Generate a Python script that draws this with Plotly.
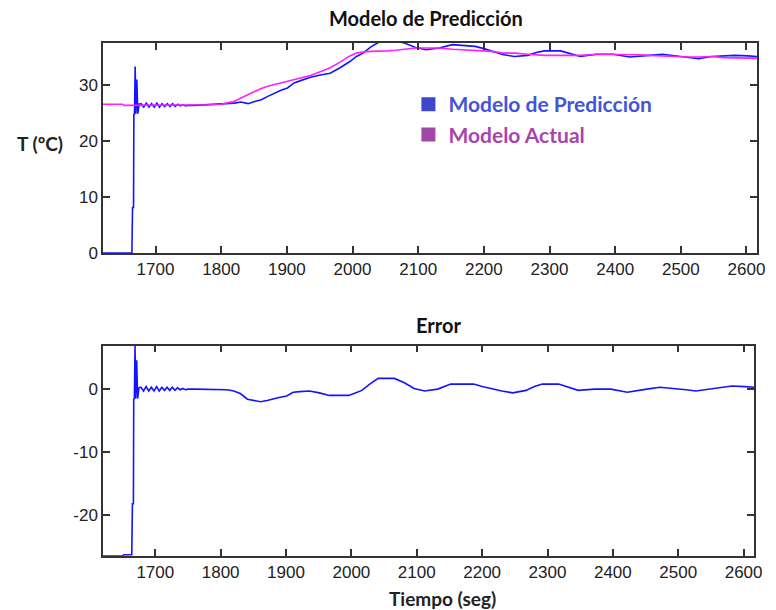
import plotly.graph_objects as go

# Sample times (s) shared by both temperature series
time_s = [
    1620, 1650, 1652, 1664, 1665, 1666.5, 1667, 1668, 1669, 1670, 1671.5, 1673, 1675,
    1678, 1682, 1686, 1690, 1694, 1698, 1702, 1706, 1710, 1714, 1718, 1722, 1726, 1730,
    1734, 1738, 1742, 1746, 1750, 1760, 1780, 1800, 1810, 1820, 1830, 1841, 1851, 1861,
    1871, 1881, 1891, 1901, 1911, 1921, 1936, 1951, 1966, 1981, 1996, 2006, 2016, 2028,
    2041, 2053, 2066, 2081, 2096, 2112, 2132, 2152, 2170, 2187, 2200, 2212, 2230, 2247,
    2267, 2280, 2292, 2317, 2332, 2347, 2372, 2397, 2422, 2437, 2452, 2472, 2497, 2512,
    2527, 2547, 2565, 2582, 2602, 2616,
]

# Measured temperature (ºC) - "Modelo Actual"
temp_actual = [
    26.5, 26.5, 26.3, 26.3, 26.3, 26.3, 26.3, 26.3, 26.3, 26.3, 26.3, 26.3, 26.3,
    26.3, 26.3, 26.3, 26.3, 26.3, 26.3, 26.3, 26.3, 26.3, 26.3, 26.3, 26.3, 26.3, 26.3,
    26.3, 26.3, 26.3, 26.3, 26.3, 26.3, 26.4, 26.5, 26.7, 27.0, 27.6, 28.2, 28.8, 29.3,
    29.7, 30.0, 30.3, 30.5, 30.8, 31.1, 31.6, 32.3, 33.0, 34.0, 35.1, 35.6, 35.8, 35.9,
    35.9, 36.0, 36.1, 36.3, 36.5, 36.5, 36.5, 36.3, 36.2, 36.0, 36.0, 35.9, 35.6, 35.6,
    35.4, 35.3, 35.2, 35.2, 35.2, 35.2, 35.4, 35.4, 35.4, 35.3, 35.2, 35.1, 34.9, 34.9,
    34.9, 35.0, 34.8, 34.7, 34.7, 34.7,
]

# Predicted temperature (ºC) - "Modelo de Predicción"
temp_pred = [
    0.0, 0.0, 0.0, 0.0, 8.1, 8.1, 24.7, 24.8, 33.2, 24.8, 30.9, 24.8, 26.5,
    26.6, 26.0, 26.7, 26.0, 26.6, 26.0, 26.7, 26.0, 26.6, 26.1, 26.6, 26.1, 26.6, 26.1,
    26.5, 26.2, 26.4, 26.2, 26.3, 26.3, 26.4, 26.5, 26.6, 26.7, 26.9, 26.6, 27.0, 27.3,
    27.9, 28.5, 29.0, 29.4, 30.3, 30.7, 31.3, 31.7, 32.0, 33.0, 34.1, 35.0, 35.6, 36.7,
    37.6, 37.7, 37.8, 37.3, 36.6, 36.2, 36.5, 37.1, 37.0, 36.8, 36.4, 36.0, 35.3, 35.0,
    35.2, 35.7, 36.0, 36.0, 35.5, 35.0, 35.4, 35.4, 34.9, 35.1, 35.2, 35.4, 35.0, 34.8,
    34.6, 35.0, 35.1, 35.2, 35.1, 35.0,
]

# Prediction error = predicted - measured
error = [round(p - a, 2) for p, a in zip(temp_pred, temp_actual)]

x_ticks = [1700, 1800, 1900, 2000, 2100, 2200, 2300, 2400, 2500, 2600]
y_ticks_temp = [0, 10, 20, 30]
y_ticks_err = [-20, -10, 0]
y_ticks_err_text = ["-20", "-10", "0"]

BLUE = "#1414ff"
MAGENTA = "#ff1eff"

fig = go.Figure()

fig.add_trace(go.Scatter(x=time_s, y=temp_pred, mode="lines",
                         line=dict(color=BLUE, width=1.6),
                         xaxis="x", yaxis="y", showlegend=False))
fig.add_trace(go.Scatter(x=time_s, y=temp_actual, mode="lines",
                         line=dict(color=MAGENTA, width=1.6),
                         xaxis="x", yaxis="y", showlegend=False))
fig.add_trace(go.Scatter(x=time_s, y=error, mode="lines",
                         line=dict(color=BLUE, width=1.6),
                         xaxis="x2", yaxis="y2", showlegend=False))

# Legend entries (square swatches)
fig.add_trace(go.Scatter(x=[None], y=[None], mode="markers",
                         marker=dict(symbol="square", size=14, color="#3e48cc"),
                         name="<span style='color:#4254dc'><b>Modelo de Predicción</b></span>",
                         xaxis="x", yaxis="y"))
fig.add_trace(go.Scatter(x=[None], y=[None], mode="markers",
                         marker=dict(symbol="square", size=14, color="#a048a6"),
                         name="<span style='color:#a845ac'><b>Modelo Actual</b></span>",
                         xaxis="x", yaxis="y"))

axis_common = dict(
    showgrid=False, zeroline=False, showline=True, linecolor="#333333", linewidth=1.5,
    mirror="ticks", ticks="inside", ticklen=7, tickwidth=1.5, tickcolor="#333333",
    tickfont=dict(family="Liberation Sans", size=17, color="#222222"),
)

title_font = dict(family="Lato", size=20, color="#111111")
label_font = dict(family="Lato", size=19, color="#222222")

fig.update_layout(
    width=776, height=610,
    margin=dict(l=103, r=11, t=43, b=54),
    paper_bgcolor="white", plot_bgcolor="white",
    xaxis=dict(domain=[0, 1], anchor="y", range=[1620, 2616], tickvals=x_ticks, **axis_common),
    yaxis=dict(domain=[0.5906, 1], anchor="x", range=[0, 37.4], tickvals=y_ticks_temp, **axis_common),
    xaxis2=dict(domain=[0, 0.9955], anchor="y2", range=[1620, 2616], tickvals=x_ticks, **axis_common),
    yaxis2=dict(domain=[0, 0.41], anchor="x2", range=[-26.5, 6.9], tickvals=y_ticks_err,
                ticktext=y_ticks_err_text, **axis_common),
    legend=dict(x=0.467, y=0.92, xanchor="left", yanchor="top", bgcolor="rgba(0,0,0,0)",
                font=dict(family="Lato", size=21), itemsizing="trace"),
    annotations=[
        dict(text="<b>Modelo de Predicción</b>", x=0.494, y=1.0487, xref="paper", yref="paper",
             xanchor="center", yanchor="middle", showarrow=False, font=title_font),
        dict(text="<b>Error</b>", x=0.5136, y=0.450, xref="paper", yref="paper",
             xanchor="center", yanchor="middle", showarrow=False, font=title_font),
        dict(text="<b>T (ºC)</b>", x=-0.0967, y=0.805, xref="paper", yref="paper",
             xanchor="center", yanchor="middle", showarrow=False, font=label_font),
        dict(text="<b>Tiempo (seg)</b>", x=0.5196, y=-0.0819, xref="paper", yref="paper",
             xanchor="center", yanchor="middle", showarrow=False, font=label_font),
    ],
)

fig.write_html("out.html")
